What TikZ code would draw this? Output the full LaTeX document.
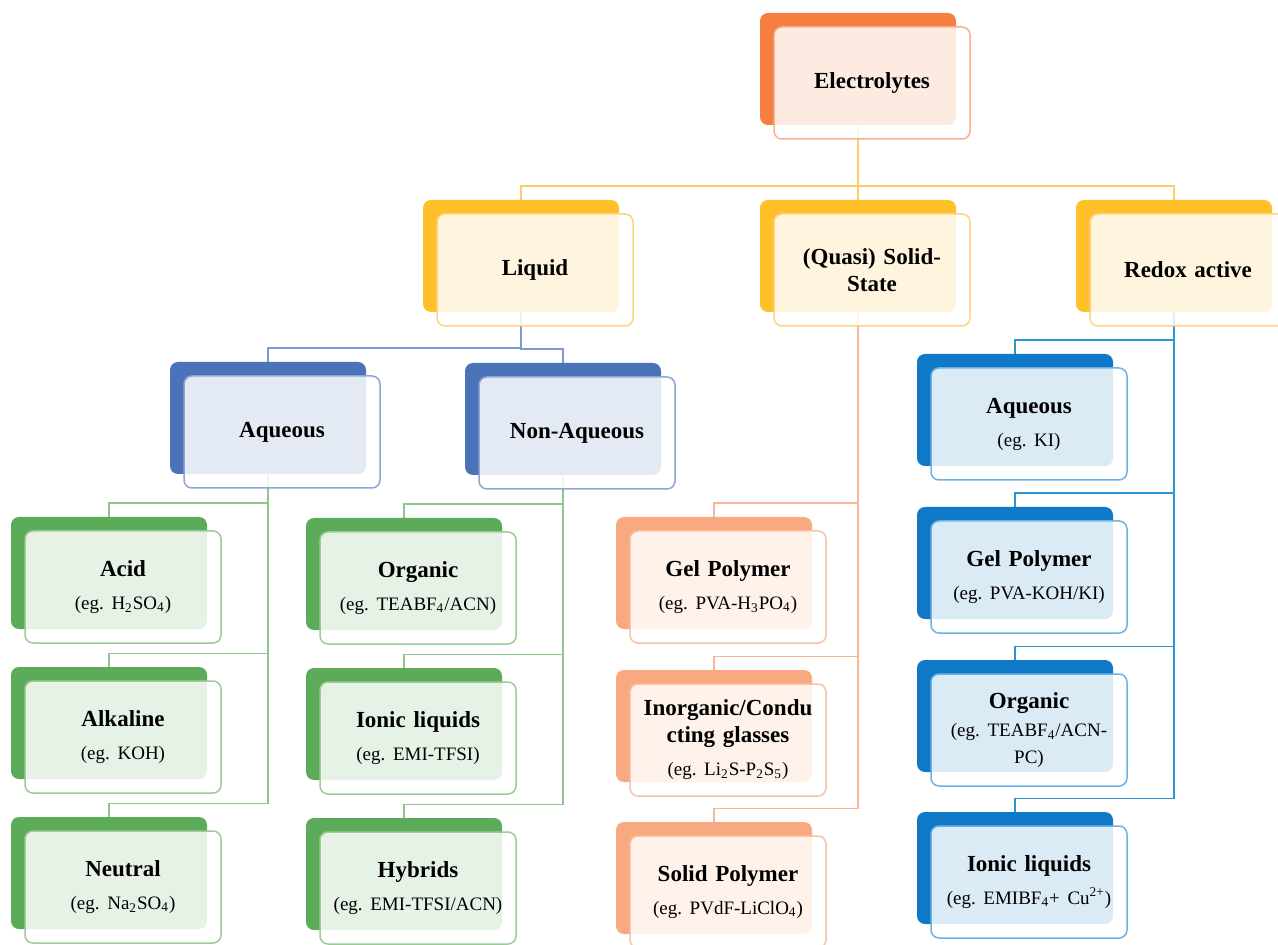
\documentclass[tikz,border=0pt]{standalone}
\usepackage{fontspec}
\setmainfont{Liberation Serif}
\usetikzlibrary{calc,positioning,backgrounds,shadows}

\definecolor{orngB}{HTML}{F47F3E}
\definecolor{orngL}{HTML}{F6B08E}
\definecolor{ylwB}{HTML}{FFC02A}
\definecolor{ylwL}{HTML}{FFD27F}
\definecolor{ylwC}{HTML}{FFCB6B}
\definecolor{bluB}{HTML}{4A73BA}
\definecolor{bluL}{HTML}{8EA5D6}
\definecolor{bluC}{HTML}{7E99CF}
\definecolor{grnB}{HTML}{5BAB58}
\definecolor{grnL}{HTML}{9DCB97}
\definecolor{grnC}{HTML}{8FC78B}
\definecolor{salB}{HTML}{F9A97F}
\definecolor{salL}{HTML}{F7C3A8}
\definecolor{salC}{HTML}{F6B898}
\definecolor{cyaB}{HTML}{0F79C7}
\definecolor{cyaL}{HTML}{6DB3E2}
\definecolor{cyaC}{HTML}{2C95D6}

\begin{document}
\frenchspacing
\begin{tikzpicture}[x=0.5pt,y=-0.5pt,
  box/.style 2 args={rounded corners=4pt, minimum width=98pt, minimum height=56pt,
    inner sep=1pt, text width=94pt, align=center, font=\fontsize{11.5}{13.5}\selectfont,
    fill=white, fill opacity=0.85, text opacity=1, draw=#2, line width=0.75pt,
    copy shadow={shadow xshift=-7pt, shadow yshift=7pt, fill=#1, draw=none, fill opacity=1}},
  conn/.style={line width=0.75pt}]

\useasboundingbox (0,0) rectangle (1278,945);

% top level
\node[box={orngB}{orngL}] (elec) at (872,83) {\textbf{Electrolytes}};

% second level
\node[box={ylwB}{ylwL}] (liq) at (535,270) {\textbf{Liquid}};
\node[box={ylwB}{ylwL}] (solid) at (872,270) {\textbf{(Quasi) Solid-\\State}};
\node[box={ylwB}{ylwL}] (redox) at (1188,270) {\textbf{Redox active}};

% liquid
\node[box={bluB}{bluL}] (aq) at (282,432) {\textbf{Aqueous}};
\node[box={bluB}{bluL}] (naq) at (577,433) {\textbf{Non-Aqueous}};

% aqueous
\node[box={grnB}{grnL}] (acid) at (123,587) {\textbf{Acid}\\[3pt]{\fontsize{9.5}{11}\selectfont (eg. H\textsubscript{2}SO\textsubscript{4})}};
\node[box={grnB}{grnL}] (alk) at (123,737) {\textbf{Alkaline}\\[3pt]{\fontsize{9.5}{11}\selectfont (eg. KOH)}};
\node[box={grnB}{grnL}] (neut) at (123,887) {\textbf{Neutral}\\[3pt]{\fontsize{9.5}{11}\selectfont (eg. Na\textsubscript{2}SO\textsubscript{4})}};

% non-aqueous
\node[box={grnB}{grnL}] (org) at (418,588) {\textbf{Organic}\\[3pt]{\fontsize{9.5}{11}\selectfont (eg. TEABF\textsubscript{4}/ACN)}};
\node[box={grnB}{grnL}] (ionic) at (418,738) {\textbf{Ionic liquids}\\[3pt]{\fontsize{9.5}{11}\selectfont (eg. EMI-TFSI)}};
\node[box={grnB}{grnL}] (hyb) at (418,888) {\textbf{Hybrids}\\[3pt]{\fontsize{9.5}{11}\selectfont (eg. EMI-TFSI/ACN)}};

% solid state
\node[box={salB}{salL}] (gel) at (728,587) {\textbf{Gel Polymer}\\[3pt]{\fontsize{9.5}{11}\selectfont (eg. PVA-H\textsubscript{3}PO\textsubscript{4})}};
\node[box={salB}{salL}] (inorg) at (728,740) {\textbf{Inorganic/Condu\\cting glasses}\\[3pt]{\fontsize{9.5}{11}\selectfont (eg. Li\textsubscript{2}S-P\textsubscript{2}S\textsubscript{5})}};
\node[box={salB}{salL}] (spoly) at (728,892) {\textbf{Solid Polymer}\\[3pt]{\fontsize{9.5}{11}\selectfont (eg. PVdF-LiClO\textsubscript{4})}};

% redox active
\node[box={cyaB}{cyaL}] (raq) at (1029,424) {\textbf{Aqueous}\\[3pt]{\fontsize{9.5}{11}\selectfont (eg. KI)}};
\node[box={cyaB}{cyaL}] (rgel) at (1029,577) {\textbf{Gel Polymer}\\[3pt]{\fontsize{9.5}{11}\selectfont (eg. PVA-KOH/KI)}};
\node[box={cyaB}{cyaL}] (rorg) at (1029,730) {\textbf{Organic}\\[3pt]{\fontsize{9.5}{11}\selectfont (eg. TEABF\textsubscript{4}/ACN-\\PC)}};
\node[box={cyaB}{cyaL}] (rion) at (1029,882) {\textbf{Ionic liquids}\\[3pt]{\fontsize{9.5}{11}\selectfont (eg. EMIBF\textsubscript{4}+ Cu\textsuperscript{2+})}};

% the connectors
\begin{scope}[on background layer]
\foreach \c in {liq,solid,redox}
  \draw[conn,ylwC] ([xshift=-7pt]elec.center) |- ($(\c.north)+(-14,-27)$) -- ([xshift=-7pt]\c.center);
\foreach \c in {aq,naq}
  \draw[conn,bluC] ([xshift=-7pt]liq.center) |- ($(\c.north)+(-14,-27)$) -- ([xshift=-7pt]\c.center);
\foreach \c in {acid,alk,neut}
  \draw[conn,grnC] ([xshift=-7pt]aq.center) |- ($(\c.north)+(-14,-27)$) -- ([xshift=-7pt]\c.center);
\foreach \c in {org,ionic,hyb}
  \draw[conn,grnC] ([xshift=-7pt]naq.center) |- ($(\c.north)+(-14,-27)$) -- ([xshift=-7pt]\c.center);
\foreach \c in {gel,inorg,spoly}
  \draw[conn,salC] ([xshift=-7pt]solid.center) |- ($(\c.north)+(-14,-27)$) -- ([xshift=-7pt]\c.center);
\foreach \c in {raq,rgel,rorg,rion}
  \draw[conn,cyaC] ([xshift=-7pt]redox.center) |- ($(\c.north)+(-14,-27)$) -- ([xshift=-7pt]\c.center);
\end{scope}

\end{tikzpicture}
\end{document}
